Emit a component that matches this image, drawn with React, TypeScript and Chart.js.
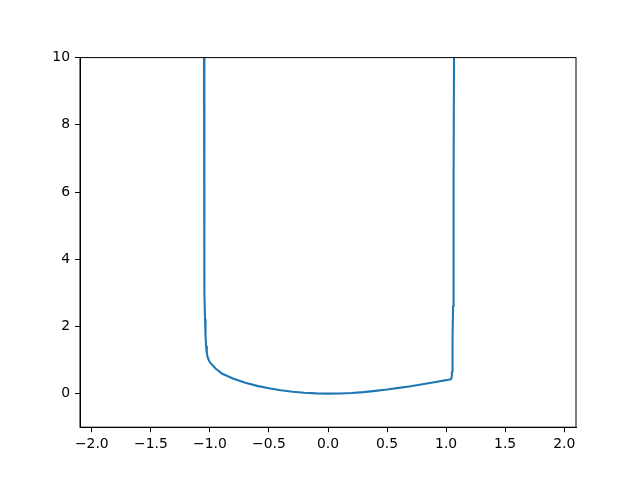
import React, { useEffect, useRef } from 'react';
import { Chart, registerables } from 'chart.js';

Chart.register(...registerables);

// curve (x, y pairs)
const curveX = [
    -1.050, -1.049, -1.048, -1.046, -1.044, -1.041, -1.037, -1.032, -1.026, -1.018, -1.010,
    -1.000, -0.950, -0.900, -0.800, -0.700, -0.600, -0.500, -0.400, -0.300, -0.200, -0.100,
    0.000, 0.100, 0.200, 0.300, 0.400, 0.500, 0.600, 0.700, 0.800, 0.900, 1.000, 1.040,
    1.047, 1.050, 1.053, 1.056, 1.059, 1.062, 1.065, 1.067,
];
const curveY = [
    10.0, 8.0, 6.0, 4.0, 3.0, 2.2, 1.7, 1.4, 1.2, 1.07, 1.0,
    0.93, 0.74, 0.60, 0.44, 0.32, 0.23, 0.16, 0.10, 0.055, 0.025, 0.006,
    0.0, 0.005, 0.02, 0.045, 0.08, 0.12, 0.17, 0.22, 0.28, 0.34, 0.40, 0.43,
    0.47, 0.65, 1.0, 1.6, 2.6, 4.0, 6.5, 10.0,
];

const xTicks = [-2.0, -1.5, -1.0, -0.5, 0.0, 0.5, 1.0, 1.5, 2.0];
const yTicks = [0, 2, 4, 6, 8, 10];

const fmt = (v: number, digits: number) => v.toFixed(digits).replace('-', '\u2212');

const framePlugin = {
    id: 'frame',
    afterDatasetsDraw(chart: Chart) {
        const { ctx, chartArea } = chart;
        ctx.save();
        ctx.strokeStyle = '#000';
        ctx.lineWidth = 1;
        ctx.strokeRect(chartArea.left, chartArea.top, chartArea.right - chartArea.left, chartArea.bottom - chartArea.top);
        ctx.restore();
    },
};

const App: React.FC = () => {
    const chartRef = useRef<HTMLCanvasElement | null>(null);
    const chartInstanceRef = useRef<Chart | null>(null);

    useEffect(() => {
        if (!chartRef.current) return;

        const points = curveX.map((x, i) => ({ x, y: curveY[i] }));

        chartInstanceRef.current = new Chart(chartRef.current, {
            type: 'scatter',
            data: {
                datasets: [{
                    data: points,
                    showLine: true,
                    borderColor: '#1f77b4',
                    borderWidth: 2.1,
                    borderJoinStyle: 'round',
                    pointRadius: 0,
                    tension: 0,
                }],
            },
            plugins: [framePlugin],
            options: {
                animation: false,
                responsive: true,
                maintainAspectRatio: false,
                layout: { padding: { left: 0, right: 64, top: 57.6, bottom: 0 } },
                font: { family: 'DejaVu Sans', size: 13.9 },
                scales: {
                    x: {
                        type: 'linear',
                        min: -2.1,
                        max: 2.1,
                        afterFit: (scale: any) => { scale.height = 52.8; },
                        afterBuildTicks: (scale: any) => { scale.ticks = xTicks.map(v => ({ value: v })); },
                        grid: { drawOnChartArea: false, drawTicks: true, tickLength: 5, color: '#000', lineWidth: 1 },
                        border: { display: true, color: '#000', width: 1 },
                        ticks: {
                            color: '#000',
                            padding: 4,
                            maxRotation: 0,
                            autoSkip: false,
                            font: { family: 'DejaVu Sans', size: 13.9 },
                            callback: (value) => fmt(Number(value), 1),
                        },
                    },
                    y: {
                        type: 'linear',
                        min: -1,
                        max: 10,
                        afterFit: (scale: any) => { scale.width = 80; },
                        afterBuildTicks: (scale: any) => { scale.ticks = yTicks.map(v => ({ value: v })); },
                        grid: { drawOnChartArea: false, drawTicks: true, tickLength: 5, color: '#000', lineWidth: 1 },
                        border: { display: true, color: '#000', width: 1 },
                        ticks: {
                            color: '#000',
                            padding: 5,
                            autoSkip: false,
                            font: { family: 'DejaVu Sans', size: 13.9 },
                            callback: (value) => fmt(Number(value), 0),
                        },
                    },
                },
                plugins: {
                    legend: { display: false },
                    tooltip: { enabled: false },
                },
            },
        });

        return () => {
            chartInstanceRef.current?.destroy();
        };
    }, []);

    return (
        <div style={{ position: 'absolute', left: 0, top: 0, width: 640, height: 480, background: '#fff' }}>
            <canvas ref={chartRef}></canvas>
        </div>
    );
};

export default App;
